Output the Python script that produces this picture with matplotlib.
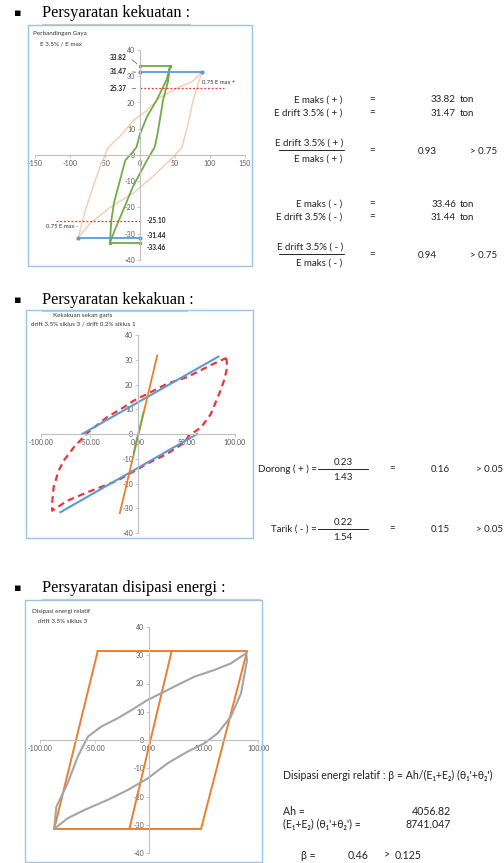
import matplotlib
matplotlib.use('Agg')
import matplotlib.pyplot as plt
from matplotlib.patches import Rectangle
from matplotlib.lines import Line2D

W, H = 504, 863
fig = plt.figure(figsize=(W / 100, H / 100), dpi=100)

SANS = ['Lato', 'DejaVu Sans']
SERIF = ['Liberation Serif', 'DejaVu Serif']
FS = 7.0

# ---------------- data: chart 1 (kekuatan) ----------------
c1_loop_x = [88, 82, 76, 68, 60, 48, 19, -10, -43, -71, -88, -84, -79, -67, -55, -45, -29, -10, 10, 29, 57, 75, 88]
c1_loop_y = [31.5, 26, 21, 11, 3, -0.6, -8, -14.6, -20, -26, -31.4, -27, -22, -12, -3, 3, 7, 13, 17, 22, 26, 28, 31.5]
c1_green_x = [43, 40, 33, 25, 21, 10, -10, -24, -36, -43, -41, -37, -31, -21, -12, -5, 0, 10, 24, 38, 43]
c1_green_y = [33.8, 28, 21, 8, 3, -2, -12, -21, -28.6, -33.5, -25, -18, -12, -2, 0.6, 3, 8, 14.6, 21, 28.6, 33.8]
c1_emax_pos = 33.82
c1_emax_neg = -33.46
c1_edrift_pos = 31.47
c1_edrift_neg = -31.44
c1_075_pos = 25.37
c1_075_neg = -25.10
c1_drift_emax = 43
c1_drift_35 = 88
c1_xticks = [-150, -100, -50, 0, 50, 100, 150]
c1_yticks = [-40, -30, -20, -10, 0, 10, 20, 30, 40]

# ---------------- data: chart 2 (kekakuan) ----------------
c2_red_x = [91, 92, 89, 85, 75, 65, 52.6, 47, 30, 9.5, -21, -52, -73, -88.5, -88.5, -87, -82, -76.5, -66, -52, -32, -18, -4.3, 9.5, 30, 50.7, 64.4, 78, 91]
c2_red_y = [30.7, 27, 22, 17.5, 8, 2.7, -0.7, -3.7, -8, -12, -18.8, -23.5, -27, -31, -28, -21.5, -15, -10.7, -5.3, 0.5, 6.8, 10, 13.5, 16.2, 20.3, 23, 25.7, 28.4, 30.7]
c2_blue_up_x = [-57.5, 83]
c2_blue_up_y = [0, 31.3]
c2_blue_lo_x = [-80, 61]
c2_blue_lo_y = [-31.6, 0]
c2_orange_x = [-18.8, 19.8]
c2_orange_y = [-32, 31.7]
c2_green_x = [-4.5, -3, -1, 1, 3.5, 6, 5, 3, 0.5, -2, -4.5]
c2_green_y = [-8, -5, -1.5, 1.5, 5, 9, 8, 4.5, 0.5, -3.5, -8]
c23_xticks = [-100, -50, 0, 50, 100]
c23_yticks = [-40, -30, -20, -10, 0, 10, 20, 30, 40]

# ---------------- data: chart 3 (disipasi energi) ----------------
c3_para_x = [-47, 90, 47.7, -87, -47]
c3_para_y = [31.5, 31.5, -31.5, -31.5, 31.5]
c3_mid_x = [-18, 20.8]
c3_mid_y = [-31.5, 31.5]
c3_gray_x = [-87, -85, -74.6, -65.4, -56, -44, -28.7, -13.5, -1.2, 11, 23.2, 41.6, 60, 75, 89,
             90, 84.4, 75, 63, 50.7, 35.5, 17.2, -1.2, -19.5, -37.9, -59.4, -74.6, -87]
c3_gray_y = [-31.5, -23.6, -15.3, -5.9, 1.2, 4.7, 7.7, 11.2, 14.2, 16.5, 18.9, 22.4, 24.8, 27.1, 30.7,
             28.3, 16.5, 8.2, 2.4, -1.2, -4.1, -8.2, -13.6, -17.7, -21.2, -24.8, -27.7, -31.5]

# ---------------- helpers ----------------
def px_axes(x0, x1, ytop, ybot):
    return fig.add_axes([x0 / W, 1 - ybot / H, (x1 - x0) / W, (ybot - ytop) / H])


def box(x0, y0, x1, y1):
    fig.add_artist(Rectangle((x0 / W, 1 - y1 / H), (x1 - x0) / W, (y1 - y0) / H,
                             transform=fig.transFigure, fill=False,
                             edgecolor='#9dc3e6', lw=1.0))


def hline(x0, x1, y, color='black', lw=0.6):
    fig.add_artist(Line2D([x0 / W, x1 / W], [1 - y / H, 1 - y / H],
                          transform=fig.transFigure, color=color, lw=lw))


def T(x, y, s, ha='left', size=FS, **kw):
    fig.text(x / W, 1 - y / H, s, ha=ha, va='center', fontsize=size,
             family=kw.pop('family', SANS), color=kw.pop('color', '#222222'), **kw)


def style_axes(ax, xlim, ylim, xticks, yticks, xfmt):
    ax.set_xlim(*xlim)
    ax.set_ylim(*ylim)
    ax.patch.set_alpha(0)
    for s in ['top', 'right']:
        ax.spines[s].set_visible(False)
    ax.spines['left'].set_position(('data', 0))
    ax.spines['bottom'].set_position(('data', 0))
    for s in ['left', 'bottom']:
        ax.spines[s].set_color('#bfbfbf')
        ax.spines[s].set_linewidth(0.8)
    ax.set_xticks(xticks)
    ax.set_yticks(yticks)
    ax.set_xticklabels([xfmt(v) for v in xticks], family=SANS)
    ax.set_yticklabels([str(v) for v in yticks], family=SANS)
    ax.tick_params(axis='both', labelsize=5, colors='#bfbfbf', labelcolor='#595959',
                   length=2, width=0.6, pad=1.5)


def heading(y, s, x_end):
    T(14, y, '\u25aa', size=8, color='black', family=['DejaVu Sans'])
    T(42, y, s, size=11.8, color='black', family=SERIF)
    hline(42, x_end, y + 11, color='#c8c8c8', lw=0.8)


# ================= Section 1 =================
heading(13, 'Persyaratan kekuatan :', 190)
box(28, 25, 252, 266)
ax1 = px_axes(35, 245, 50, 260)
style_axes(ax1, (-150, 150), (-40, 40), c1_xticks, c1_yticks, lambda v: str(v))
ax1.plot(c1_loop_x, c1_loop_y, color='#f8cbad', lw=1.0)
ax1.plot(c1_green_x, c1_green_y, color='#70ad47', lw=1.3)
ax1.plot([0, c1_drift_emax], [c1_emax_pos, c1_emax_pos], color='#70ad47', lw=1.3, marker='s', ms=2)
ax1.plot([-c1_drift_emax, 0], [c1_emax_neg, c1_emax_neg], color='#70ad47', lw=1.3, marker='s', ms=2)
ax1.plot([0, c1_drift_35], [c1_edrift_pos, c1_edrift_pos], color='#5b9bd5', lw=1.3, marker='o', ms=2)
ax1.plot([-c1_drift_35, 0], [c1_edrift_neg, c1_edrift_neg], color='#5b9bd5', lw=1.3, marker='o', ms=2)
ax1.plot([0, 120], [c1_075_pos, c1_075_pos], color='#ff3030', lw=0.9, ls=(0, (1.5, 1.5)))
ax1.plot([-120, 0], [c1_075_neg, c1_075_neg], color='#ff3030', lw=0.9, ls=(0, (1.5, 1.5)))
lab_kw = dict(fontsize=4.8, family=SANS, color='#222222', fontweight='bold', va='center')
ax1.annotate(f'{c1_emax_pos:.2f}', xy=(-2, c1_emax_pos), xytext=(-19, 37.3), ha='right',
             arrowprops=dict(arrowstyle='-', color='#555555', lw=0.5, connectionstyle='arc3,rad=-0.3'), **lab_kw)
ax1.annotate(f'{c1_edrift_pos:.2f}', xy=(-2, c1_edrift_pos), xytext=(-19, 32.0), ha='right',
             arrowprops=dict(arrowstyle='-', color='#555555', lw=0.5), **lab_kw)
ax1.annotate(f'{c1_075_pos:.2f}', xy=(-2, c1_075_pos), xytext=(-19, 25.5), ha='right',
             arrowprops=dict(arrowstyle='-', color='#555555', lw=0.5), **lab_kw)
ax1.annotate(f'{c1_075_neg:.2f}', xy=(2, c1_075_neg), xytext=(10, -24.8), ha='left', **lab_kw)
ax1.annotate(f'{c1_edrift_neg:.2f}', xy=(2, c1_edrift_neg), xytext=(10, -30.5), ha='left',
             arrowprops=dict(arrowstyle='-', color='#555555', lw=0.5), **lab_kw)
ax1.annotate(f'{c1_emax_neg:.2f}', xy=(2, c1_emax_neg), xytext=(10, -35.4), ha='left', **lab_kw)
ax1.text(89, 27.8, '0.75 E max +', fontsize=4.2, family=SANS, color='#333333', ha='left', va='center')
ax1.text(-89, -27.4, '0.75 E max -', fontsize=4.2, family=SANS, color='#333333', ha='right', va='center')
T(33, 33, 'Perbandingan Gaya', size=4.5, color='#333333')
T(40, 44, 'E 3.5% / E max', size=4.5, color='#333333')

# right-hand text, section 1
def ratio_block(y0, sign, emax, edrift, ratio):
    T(342, y0, f'E maks ( {sign} )', ha='right')
    T(372, y0, '=', ha='center')
    T(456, y0, f'{emax:.2f}', ha='right')
    T(460, y0, 'ton')
    T(342, y0 + 13, f'E drift 3.5% ( {sign} )', ha='right')
    T(372, y0 + 13, '=', ha='center')
    T(456, y0 + 13, f'{edrift:.2f}', ha='right')
    T(460, y0 + 13, 'ton')
    T(343, y0 + 43, f'E drift 3.5% ( {sign} )', ha='right')
    hline(279, 344, y0 + 50)
    T(342, y0 + 59, f'E maks ( {sign} )', ha='right')
    T(372, y0 + 51, '=', ha='center')
    T(418, y0 + 51, f'{ratio:.2f}')
    T(470, y0 + 51, '> 0.75')

ratio_block(100, '+', 33.82, 31.47, 31.47 / 33.82)
ratio_block(204, '-', 33.46, 31.44, 31.44 / 33.46)

# ================= Section 2 =================
heading(300, 'Persyaratan kekakuan :', 187)
box(26, 310, 253, 538)
ax2 = px_axes(41, 235, 335, 533)
style_axes(ax2, (-100, 100), (-40, 40), c23_xticks, c23_yticks, lambda v: f'{v:.2f}')
ax2.plot(c2_red_x, c2_red_y, color='#e8373a', lw=1.6, ls=(0, (3, 2)))
ax2.plot(c2_blue_up_x, c2_blue_up_y, color='#5b9bd5', lw=1.5)
ax2.plot(c2_blue_lo_x, c2_blue_lo_y, color='#5b9bd5', lw=1.5)
ax2.plot(c2_orange_x, c2_orange_y, color='#ed7d31', lw=1.3)
ax2.plot(c2_green_x, c2_green_y, color='#70ad47', lw=1.3, ls=(0, (1, 1)))
T(83, 315, 'Kekakuan sekan garis', ha='center', size=4.5, color='#333333')
T(83, 324, 'drift 3.5% siklus 3 / drift 0.2% siklus 1', ha='center', size=4.5, color='#333333')

def stiff_row(y, label, num, den, val):
    T(317, y, label, ha='right')
    T(343, y - 7, f'{num:.2f}', ha='center')
    hline(318, 368, y)
    T(343, y + 8, f'{den:.2f}', ha='center')
    T(392, y, '=', ha='center')
    T(440, y, f'{val:.2f}', ha='center')
    T(476, y, '> 0.05')

stiff_row(469, 'Dorong ( + ) =', 0.23, 1.43, 0.16)
stiff_row(529, 'Tarik ( - ) =', 0.22, 1.54, 0.15)

# ================= Section 3 =================
heading(588, 'Persyaratan disipasi energi :', 260)
box(25, 600, 262, 862)
ax3 = px_axes(40, 258, 627, 853)
style_axes(ax3, (-100, 100), (-40, 40), c23_xticks, c23_yticks, lambda v: f'{v:.2f}')
ax3.plot(c3_para_x, c3_para_y, color='#ed7d31', lw=1.4)
ax3.plot(c3_mid_x, c3_mid_y, color='#ed7d31', lw=1.4)
ax3.plot(c3_gray_x, c3_gray_y, color='#a5a5a5', lw=1.5)
T(32, 612, 'Disipasi energi relatif', size=4.5, color='#333333')
T(38, 621, 'drift 3.5% siklus 3', size=4.5, color='#333333')

Ah = 4056.82
Eth = 8741.047
FS3 = 7.6
T(283, 775, "Disipasi energi relatif : \u03b2 = Ah/(E\u2081+E\u2082) (\u03b8\u2081'+\u03b8\u2082')", size=FS3)
T(283, 811, 'Ah =', size=FS3)
T(451, 811, f'{Ah:.2f}', ha='right', size=FS3)
T(283, 824, "(E\u2081+E\u2082) (\u03b8\u2081'+\u03b8\u2082') =", size=FS3)
T(451, 824, f'{Eth:.3f}', ha='right', size=FS3)
T(301, 855, '\u03b2 =', size=FS3)
T(358, 855, f'{Ah / Eth:.2f}', ha='center', size=FS3)
T(384, 855, '>', size=FS3)
T(395, 855, '0.125', size=FS3)

fig.savefig('out.png', dpi=100)
